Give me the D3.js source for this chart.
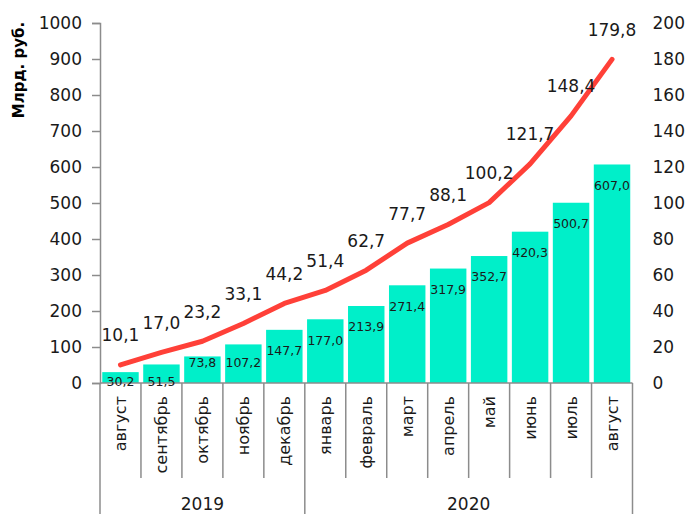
<!DOCTYPE html>
<html>
<head>
<meta charset="utf-8">
<script src="https://cdn.jsdelivr.net/npm/d3@7"></script>
<style>
  body { margin: 0; background: #fff; }
  svg { display: block; font-family: "DejaVu Sans", Verdana, sans-serif; }
</style>
</head>
<body>
<svg id="chart" width="688" height="514"></svg>
<script>
const months = ['август', 'сентябрь', 'октябрь', 'ноябрь', 'декабрь', 'январь', 'февраль',
                'март', 'апрель', 'май', 'июнь', 'июль', 'август'];
const years = ['2019', '2020'];
const yearSpans = [5, 8];          // months per year group
const barValues = [30.2, 51.5, 73.8, 107.2, 147.7, 177.0, 213.9, 271.4, 317.9, 352.7, 420.3, 500.7, 607.0];
const lineValues = [10.1, 17.0, 23.2, 33.1, 44.2, 51.4, 62.7, 77.7, 88.1, 100.2, 121.7, 148.4, 179.8];
const leftTicks = d3.range(0, 1001, 100);
const rightTicks = d3.range(0, 201, 20);

const fmt = v => v.toFixed(1).replace('.', ',');

const svg = d3.select('#chart');
const plotL = 100, plotR = 632.5, plotT = 23, plotB = 383;
const axisColor = '#8c8c8c';

const idx = d3.range(months.length);
const cell = d3.scaleBand().domain(idx).range([plotL, plotR]);
const x = d3.scaleBand().domain(idx).range([plotL, plotR])
    .paddingInner(0.11).paddingOuter(0.055);
const yL = d3.scaleLinear().domain([0, 1000]).range([plotB, plotT]);
const yR = d3.scaleLinear().domain([0, 200]).range([plotB, plotT]);

// bars
svg.append('g').selectAll('rect')
    .data(barValues)
    .join('rect')
    .attr('x', (d, i) => x(i))
    .attr('y', d => yL(d))
    .attr('width', x.bandwidth())
    .attr('height', d => yL(0) - yL(d))
    .attr('fill', '#00efc9');

// left axis
const gL = svg.append('g').attr('transform', `translate(${plotL},0)`)
    .call(d3.axisLeft(yL).tickValues(leftTicks).tickSize(8).tickPadding(10).tickFormat(d3.format('d')));
gL.select('.domain').attr('stroke', axisColor).attr('stroke-width', 1.5);
gL.selectAll('.tick line').attr('stroke', axisColor).attr('stroke-width', 1.5);
gL.selectAll('.tick text').attr('font-size', 17).attr('fill', '#1a1a1a')
    .attr('font-family', '"DejaVu Sans", Verdana, sans-serif');

// right axis (labels only)
const gR = svg.append('g').attr('transform', `translate(${plotR},0)`)
    .call(d3.axisRight(yR).tickValues(rightTicks).tickSize(0).tickPadding(20).tickFormat(d3.format('d')));
gR.select('.domain').remove();
gR.selectAll('.tick text').attr('font-size', 17).attr('fill', '#1a1a1a')
    .attr('font-family', '"DejaVu Sans", Verdana, sans-serif');

// y title
svg.append('text')
    .attr('transform', 'translate(24,70) rotate(-90)')
    .attr('text-anchor', 'middle')
    .attr('font-size', 15)
    .attr('font-weight', 'bold')
    .text('Млрд. руб.');

// category axis: baseline, separators, month labels
svg.append('line')
    .attr('x1', plotL).attr('x2', plotR).attr('y1', plotB).attr('y2', plotB)
    .attr('stroke', axisColor).attr('stroke-width', 1.5);

const bounds = idx.map(i => cell(i)).concat([plotR]);
const yearBounds = [0, 5, 13];
svg.append('g').selectAll('line')
    .data(bounds)
    .join('line')
    .attr('x1', d => d).attr('x2', d => d)
    .attr('y1', plotB)
    .attr('y2', (d, i) => yearBounds.includes(i) ? 514 : 478)
    .attr('stroke', axisColor).attr('stroke-width', 1.5);

svg.append('g').selectAll('text')
    .data(months)
    .join('text')
    .attr('transform', (d, i) => `translate(${cell(i) + cell.bandwidth() / 2},396) rotate(-90)`)
    .attr('text-anchor', 'end')
    .attr('dy', '0.35em')
    .attr('font-size', 16)
    .attr('fill', '#1a1a1a')
    .text(d => d);

// year labels
let start = 0;
years.forEach((yr, k) => {
    const x0 = cell(start), x1 = k === years.length - 1 ? plotR : cell(start + yearSpans[k]);
    svg.append('text')
        .attr('x', (x0 + x1) / 2).attr('y', 510)
        .attr('text-anchor', 'middle')
        .attr('font-size', 17)
        .attr('fill', '#1a1a1a')
        .text(yr);
    start += yearSpans[k];
});

// bar labels
svg.append('g').selectAll('text')
    .data(barValues)
    .join('text')
    .attr('x', (d, i) => x(i) + x.bandwidth() / 2)
    .attr('y', d => d < 60 ? yL(0) - 1 : Math.min(yL(d) + 21, yL(0) - 20))
    .attr('dy', '0.35em')
    .attr('text-anchor', 'middle')
    .attr('font-size', 12.5)
    .attr('fill', '#1a1a1a')
    .text(fmt);

// line
const cx = i => cell(i) + cell.bandwidth() / 2;
svg.append('path')
    .datum(lineValues)
    .attr('d', d3.line().x((d, i) => cx(i)).y(d => yR(d)))
    .attr('fill', 'none')
    .attr('stroke', '#ff4038')
    .attr('stroke-width', 5)
    .attr('stroke-linecap', 'round')
    .attr('stroke-linejoin', 'round');

svg.append('g').selectAll('text')
    .data(lineValues)
    .join('text')
    .attr('x', (d, i) => cx(i))
    .attr('y', d => yR(d) - 23.5)
    .attr('text-anchor', 'middle')
    .attr('font-size', 17)
    .attr('fill', '#1a1a1a')
    .text(fmt);
</script>
</body>
</html>
